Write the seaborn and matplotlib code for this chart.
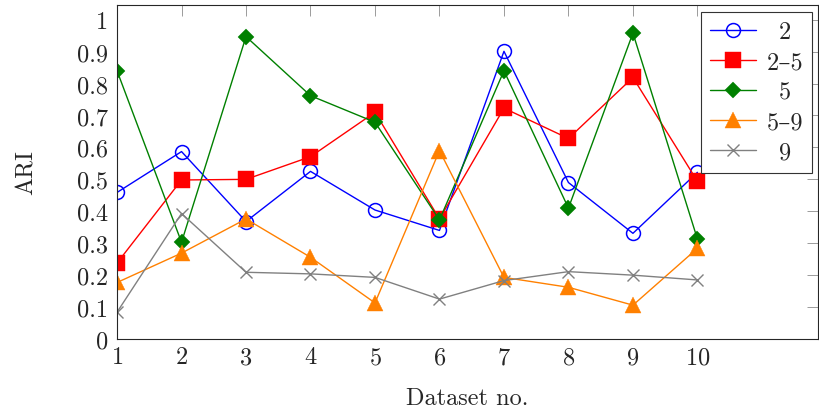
import numpy as np
import pandas as pd
import matplotlib
matplotlib.use("Agg")
import matplotlib.pyplot as plt
import seaborn as sns

# valores
datasets = list(range(1, 11))
ari_2 = [0.459, 0.587, 0.368, 0.525, 0.404, 0.340, 0.901, 0.490, 0.331, 0.522]
ari_2_5 = [0.238, 0.498, 0.500, 0.571, 0.710, 0.376, 0.723, 0.628, 0.819, 0.494]
ari_5 = [0.840, 0.303, 0.947, 0.762, 0.679, 0.373, 0.840, 0.410, 0.958, 0.313]
ari_5_9 = [0.177, 0.269, 0.376, 0.256, 0.113, 0.590, 0.193, 0.162, 0.106, 0.284]
ari_9 = [0.084, 0.393, 0.209, 0.204, 0.193, 0.125, 0.183, 0.211, 0.200, 0.185]
labels = ["2", "2\u20135", "5", "5\u20139", "9"]
yticks = [0, 0.1, 0.2, 0.3, 0.4, 0.5, 0.6, 0.7, 0.8, 0.9, 1]

df = pd.DataFrame({"Dataset": datasets * 5,
                   "ARI": ari_2 + ari_2_5 + ari_5 + ari_5_9 + ari_9,
                   "Serie": np.repeat(labels, len(datasets))})

sns.set_style("white")
plt.rcParams["font.family"] = ["cmr10", "DejaVu Serif"]
plt.rcParams["mathtext.fontset"] = "cm"
plt.rcParams["axes.formatter.use_mathtext"] = True

azul, vermelho, verde, laranja, cinza = (0, 0, 1), (1, 0, 0), (0, 0.5, 0), (1, 0.5, 0), (0.5, 0.5, 0.5)
estilos = {
    "2": dict(color=azul, marker="o", markersize=10, markerfacecolor="none",
              markeredgecolor=azul, markeredgewidth=1.1),
    "2\u20135": dict(color=vermelho, marker="s", markersize=12,
                     markeredgecolor=vermelho, markeredgewidth=0.3),
    "5": dict(color=verde, marker="D", markersize=8.6,
              markeredgecolor=verde, markeredgewidth=0.3),
    "5\u20139": dict(color=laranja, marker="^", markersize=11,
                     markeredgecolor=laranja, markeredgewidth=0.3),
    "9": dict(color=cinza, marker="x", markersize=8.5,
              markeredgecolor=cinza, markeredgewidth=1.0),
}

fig = plt.figure(figsize=(8.19, 4.14), dpi=100)
ax = fig.add_axes([0.1429, 0.1787, 0.8559, 0.8068])
for nome in labels:
    sub = df[df["Serie"] == nome]
    sns.lineplot(data=sub, x="Dataset", y="ARI", ax=ax, label=nome,
                 linewidth=1.0, **estilos[nome])

ax.set_xlim(1, 11.87)
ax.set_ylim(0, 1.046)
ax.set_xticks(datasets)
ax.set_yticks(yticks)
ax.set_yticklabels([f"{v:g}" for v in yticks])
ax.tick_params(direction="in", length=7.7, width=0.6, color="0.55",
               top=True, right=True, labelsize=17.5)
ax.tick_params(axis="x", pad=5)
ax.tick_params(axis="y", pad=6.5)
for s in ax.spines.values():
    s.set_linewidth(0.8)
    s.set_color("0.15")
ax.set_xlabel("Dataset no.", fontsize=17.5, labelpad=13.5)
ax.set_ylabel("ARI", fontsize=17.5, labelpad=28.5)

leg = ax.legend(loc="upper right", bbox_to_anchor=(0.9919, 0.978), fontsize=17.5,
                frameon=True, fancybox=False, edgecolor="0.2", framealpha=1,
                handlelength=1.9, handletextpad=0.46, labelspacing=0.33,
                borderpad=0.36, borderaxespad=0)
leg.get_frame().set_linewidth(0.8)

# centralizar os textos da legenda
fig.canvas.draw()
r = fig.canvas.get_renderer()
larguras = [t.get_window_extent(r).width for t in leg.get_texts()]
larg = max(larguras)
for t, w in zip(leg.get_texts(), larguras):
    t.set_position(((larg - w) / 2, 0))

fig.savefig("out.png", dpi=100)
